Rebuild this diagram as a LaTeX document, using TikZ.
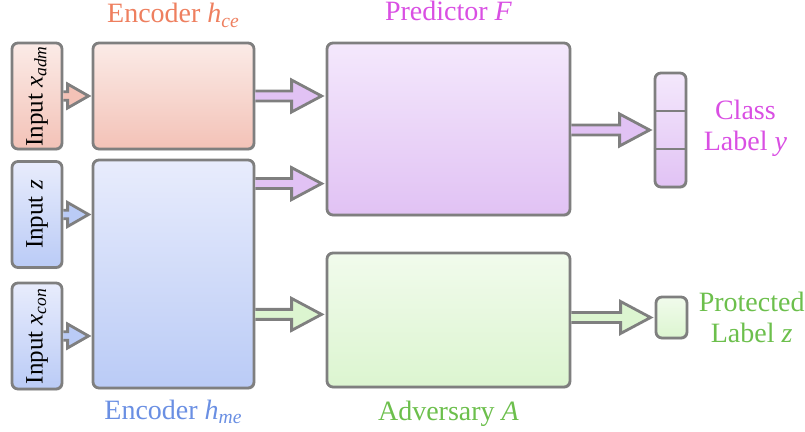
\documentclass[tikz,border=0pt]{standalone}
\usepackage{fontspec}
\setmainfont{Liberation Serif}
\usetikzlibrary{positioning,calc,shadows}

\definecolor{boxgray}{HTML}{7F7F7F}
\definecolor{ceText}{HTML}{EE7F5F}
\definecolor{meText}{HTML}{6A8FE3}
\definecolor{prText}{HTML}{D94FE3}
\definecolor{adText}{HTML}{6CBF4C}
\definecolor{pinkT}{HTML}{FBEBE7}
\definecolor{pinkB}{HTML}{F3C2B7}
\definecolor{blueT}{HTML}{E8ECFC}
\definecolor{blueB}{HTML}{BACBF6}
\definecolor{purpT}{HTML}{F4E8FC}
\definecolor{purpB}{HTML}{E1C2F4}
\definecolor{grnT}{HTML}{F1FBEC}
\definecolor{grnB}{HTML}{DCF5D0}

\tikzset{box/.style={draw=boxgray, line width=1.4pt, rounded corners=3pt, inner sep=0pt,
    drop shadow={opacity=0.25, shadow xshift=0.6pt, shadow yshift=-0.8pt}}}
\tikzset{pinkbox/.style={box, top color=pinkT, bottom color=pinkB}}
\tikzset{bluebox/.style={box, top color=blueT, bottom color=blueB}}
\tikzset{purpbox/.style={box, top color=purpT, bottom color=purpB}}
\tikzset{grnbox/.style={box, top color=grnT, bottom color=grnB}}
\tikzset{inbox/.style={minimum width=25pt, minimum height=53pt, font=\fontsize{12.5}{14}\selectfont}}
\tikzset{fatline/.style={draw=boxgray, line width=1.4pt, line join=miter}}
\tikzset{lab/.style={inner sep=0pt, align=center, font=\fontsize{14}{15.5}\selectfont}}

% #1 from, #2 to, #3 fill, #4 shaft, #5 head, #6 head length, #7 gap
\newcommand\fatarr[7]{
				\coordinate (tip) at ($(#2 |- #1)+(-#7,0)$);
				\draw[fatline, fill=#3] ($(#1)+(0,#4)$) -- ($(tip)+(-#6,#4)$) -- ($(tip)+(-#6,#5)$)
					-- (tip) -- ($(tip)+(-#6,-#5)$) -- ($(tip)+(-#6,-#4)$) -- ($(#1)+(0,-#4)$);
				}
\newcommand\bigarr[3]{\fatarr{#1}{#2}{#3}{5}{16}{30}{4}}
\newcommand\smallarr[3]{\fatarr{#1}{#2}{#3}{4.3}{12}{21}{3}}

\begin{document}
\begin{tikzpicture}[x=0.5pt, y=0.5pt]
	\useasboundingbox (0,0) rectangle (805,-432);

	\node[pinkbox, inbox] (xadm) at (37,-96) {\rotatebox{90}{Input \textit{x}\textsubscript{\textit{adm}}}};
	\node[bluebox, inbox] (xz) at (37,-214.5) {\rotatebox{90}{Input \textit{z}}};
	\node[bluebox, inbox] (xcon) at (37,-336) {\rotatebox{90}{Input \textit{x}\textsubscript{\textit{con}}}};

	\node[pinkbox, minimum width=80.5pt, minimum height=53pt] (hce) at (173.5,-96) {};
	\node[bluebox, minimum width=80.5pt, minimum height=114pt] (hme) at (173.5,-274) {};

	\node[purpbox, minimum width=121.5pt, minimum height=86pt] (F) at (448.5,-129) {};
	\node[grnbox, minimum width=121.5pt, minimum height=67pt] (A) at (448.5,-320) {};

	\node[purpbox, minimum width=15.5pt, minimum height=57pt] (ylab) at (670.5,-130) {};
	\draw[boxgray, line width=1pt] ($(ylab.north west)!1/3!(ylab.south west)$) -- ($(ylab.north east)!1/3!(ylab.south east)$);
	\draw[boxgray, line width=1pt] ($(ylab.north west)!2/3!(ylab.south west)$) -- ($(ylab.north east)!2/3!(ylab.south east)$);
	\node[grnbox, minimum width=15.5pt, minimum height=20.5pt] (zlab) at (671.5,-317.5) {};

	% titles
	\node[lab, text=ceText, above=7pt of hce] {Encoder \textit{h}\textsubscript{\textit{ce}}};
	\node[lab, text=prText, above=10pt of F] {Predictor \textit{F}};
	\node[lab, text=meText, below=5pt of hme] {Encoder \textit{h}\textsubscript{\textit{me}}};
	\node[lab, text=adText, below=6pt of A] {Adversary \textit{A}};
	\node[lab, text=prText, right=8pt of ylab, yshift=1pt] {Class\\Label \textit{y}};
	\node[lab, text=adText, right=5pt of zlab] {Protected\\Label \textit{z}};

	% arrows
	\smallarr{xadm.east}{hce.west}{pinkB}
	\smallarr{xz.east}{hme.west}{blueB}
	\smallarr{xcon.east}{hme.west}{blueB}

	\coordinate (hmeF) at ([yshift=-12.5pt]hme.north east);
	\coordinate (hmeA) at ([yshift=37.5pt]hme.south east);
	\coordinate (Fy) at (F.east |- ylab.west);
	\coordinate (Az) at (A.east |- zlab.west);
	\bigarr{hce.east}{F.west}{purpB}
	\bigarr{hmeF}{F.west}{purpB}
	\bigarr{hmeA}{A.west}{grnB}
	\bigarr{Fy}{ylab.west}{purpB}
	\bigarr{Az}{zlab.west}{grnB}
\end{tikzpicture}
\end{document}
